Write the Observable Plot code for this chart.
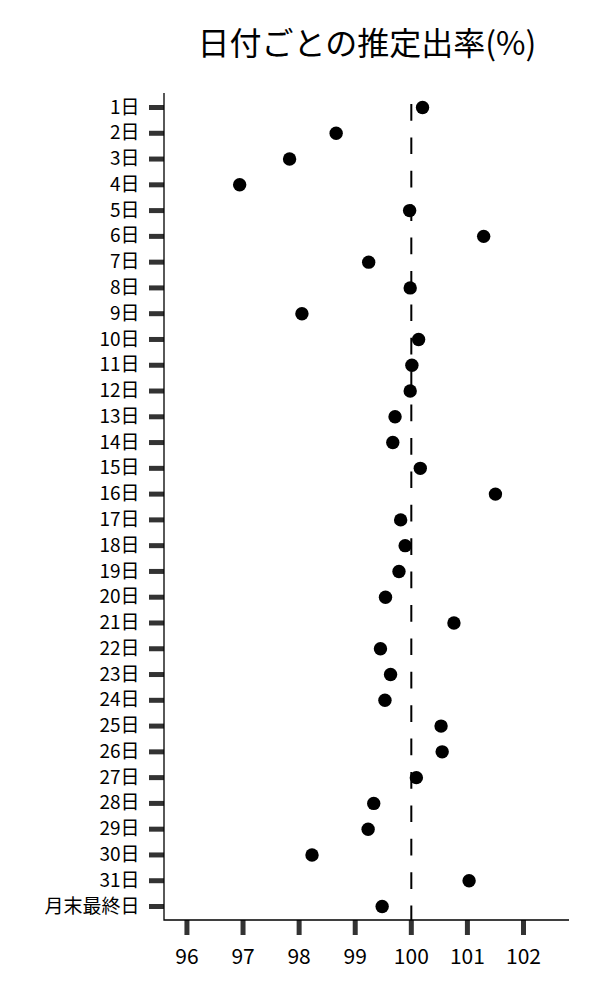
<!DOCTYPE html>
<html>
<head>
<meta charset="utf-8">
<script src="https://cdn.jsdelivr.net/npm/d3@7"></script>
<script src="https://cdn.jsdelivr.net/npm/@observablehq/plot@0.6"></script>
<style>
  body { margin: 0; background: #fff; font-family: "Noto Sans CJK JP", "Noto Sans", sans-serif; }
  #wrap { width: 600px; }
  #title { height: 84px; line-height: 82px; font-size: 32px; color: #000; text-align: center; padding-left: 134px; box-sizing: border-box; width: 600px; white-space: nowrap; }
</style>
</head>
<body>
<div id="wrap">
  <div id="title">日付ごとの推定出率(%)</div>
  <div id="chart"></div>
</div>
<script>
const days = ["1日","2日","3日","4日","5日","6日","7日","8日","9日","10日","11日","12日","13日","14日","15日","16日","17日","18日","19日","20日","21日","22日","23日","24日","25日","26日","27日","28日","29日","30日","31日","月末最終日"];
const rates = [100.20, 98.66, 97.83, 96.94, 99.97, 101.29, 99.24, 99.98, 98.05, 100.13, 100.01, 99.98, 99.71, 99.67, 100.16, 101.50, 99.81, 99.89, 99.78, 99.54, 100.76, 99.45, 99.63, 99.53, 100.53, 100.55, 100.09, 99.33, 99.23, 98.23, 101.03, 99.48];
const xTicks = [96, 97, 98, 99, 100, 101, 102];
const xDomain = [95.6, 102.82];
const reference = 100;

const data = days.map((d, i) => ({day: d, rate: rates[i]}));

const spines = (index, scales, values, dims) => {
  const {width, height, marginLeft, marginRight, marginTop, marginBottom} = dims;
  const p = d3.create("svg:path")
    .attr("d", `M${marginLeft},${marginTop}V${height - marginBottom}H${width - marginRight}`)
    .attr("fill", "none")
    .attr("stroke", "#000")
    .attr("stroke-width", 1.3);
  return p.node();
};

const chart = Plot.plot({
  width: 600,
  height: 916,
  marginTop: 9,
  marginBottom: 80,
  marginLeft: 164,
  marginRight: 31,
  style: {fontFamily: "Noto Sans CJK JP", fontSize: "19px", color: "#000", background: "#fff"},
  x: {domain: xDomain, ticks: xTicks},
  y: {type: "point", domain: days, padding: 0, insetTop: 14, insetBottom: 14, round: false},
  marks: [
    Plot.ruleX([reference], {stroke: "#000", strokeWidth: 2, strokeDasharray: "16.7,16.7", strokeDashoffset: 22.4}),
    Plot.dot(data, {x: "rate", y: "day", r: 6.7, fill: "#000", stroke: null}),
    Plot.axisY({tickSize: 15, tickPadding: 10, stroke: "#333", strokeWidth: 5, fill: "#000", fontSize: 19, label: null}),
    Plot.axisX({ticks: xTicks, tickSize: 15, tickPadding: 14, stroke: "#333", strokeWidth: 5, fill: "#000", fontSize: 21, label: null, tickFormat: d => String(d)}),
    spines
  ]
});
document.getElementById("chart").appendChild(chart);
</script>
</body>
</html>
